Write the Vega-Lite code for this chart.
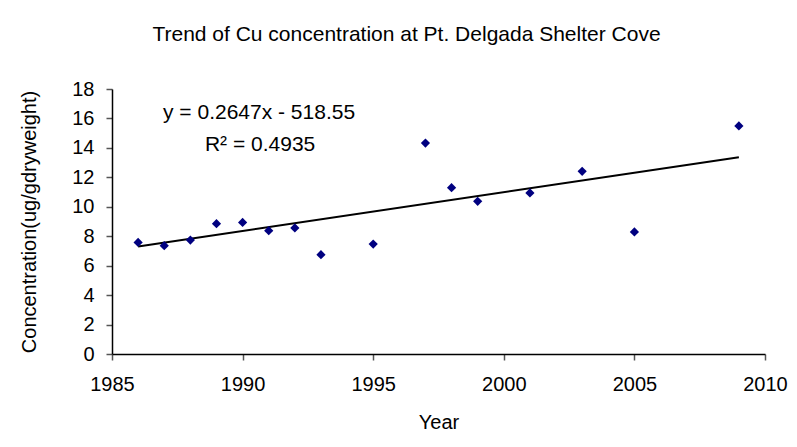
{
  "$schema": "https://vega.github.io/schema/vega-lite/v6.json",
  "width": 653,
  "height": 265,
  "autosize": "none",
  "padding": {"left": 112, "top": 89, "right": 32, "bottom": 93},
  "background": "white",
  "config": {
    "view": {"stroke": null},
    "font": "Liberation Sans",
    "axis": {
      "grid": false,
      "domainColor": "black",
      "domainWidth": 1.5,
      "tickColor": "#555555",
      "tickWidth": 1.5,
      "tickSize": 6,
      "labelColor": "black",
      "labelFont": "Liberation Sans",
      "labelFontSize": 20,
      "labelFlush": false,
      "labelOverlap": false,
      "titleColor": "black",
      "titleFont": "Liberation Sans",
      "titleFontSize": 20,
      "titleFontWeight": "normal"
    }
  },
  "title": {
    "text": "Trend of Cu concentration at Pt. Delgada Shelter Cove",
    "font": "Liberation Sans",
    "fontSize": 21,
    "fontWeight": "normal",
    "color": "black",
    "anchor": "middle",
    "dx": -32,
    "offset": 34
  },
  "datasets": {
    "points": [
      {"year": 1986, "cu": 7.58},
      {"year": 1987, "cu": 7.36},
      {"year": 1988, "cu": 7.74},
      {"year": 1989, "cu": 8.85},
      {"year": 1990, "cu": 8.94},
      {"year": 1991, "cu": 8.38},
      {"year": 1992, "cu": 8.56},
      {"year": 1993, "cu": 6.75},
      {"year": 1995, "cu": 7.47},
      {"year": 1997, "cu": 14.33},
      {"year": 1998, "cu": 11.30},
      {"year": 1999, "cu": 10.37},
      {"year": 2001, "cu": 10.94},
      {"year": 2003, "cu": 12.41},
      {"year": 2005, "cu": 8.29},
      {"year": 2009, "cu": 15.49}
    ],
    "trend": [
      {"year": 1986, "cu": 7.3},
      {"year": 2009, "cu": 13.37}
    ],
    "labels": [
      {"year": 1990.63, "cu": 16.39, "label": "y = 0.2647x - 518.55"},
      {"year": 1990.67, "cu": 14.22, "label": "R² = 0.4935"}
    ]
  },
  "encoding": {
    "x": {"field": "year", "type": "quantitative", "scale": {"domain": [1985, 2010], "nice": false, "zero": false},
      "axis": {"title": "Year", "values": [1985, 1990, 1995, 2000, 2005, 2010], "format": "d", "labelPadding": 14, "titlePadding": 18}},
    "y": {"field": "cu", "type": "quantitative", "scale": {"domain": [0, 18], "nice": false},
      "axis": {"title": "Concentration(ug/gdryweight)", "values": [0, 2, 4, 6, 8, 10, 12, 14, 16, 18], "tickCount": 10, "labelPadding": 12, "titlePadding": 32}}
  },
  "layer": [
    {
      "data": {"name": "trend"},
      "mark": {"type": "line", "color": "black", "strokeWidth": 2}
    },
    {
      "data": {"name": "points"},
      "mark": {"type": "point", "shape": "diamond", "filled": true, "color": "#000080", "size": 85, "opacity": 1}
    },
    {
      "data": {"name": "labels"},
      "mark": {"type": "text", "font": "Liberation Sans", "fontSize": 21, "color": "black", "align": "center", "baseline": "middle"},
      "encoding": {
        "text": {"field": "label"}
      }
    }
  ]
}
